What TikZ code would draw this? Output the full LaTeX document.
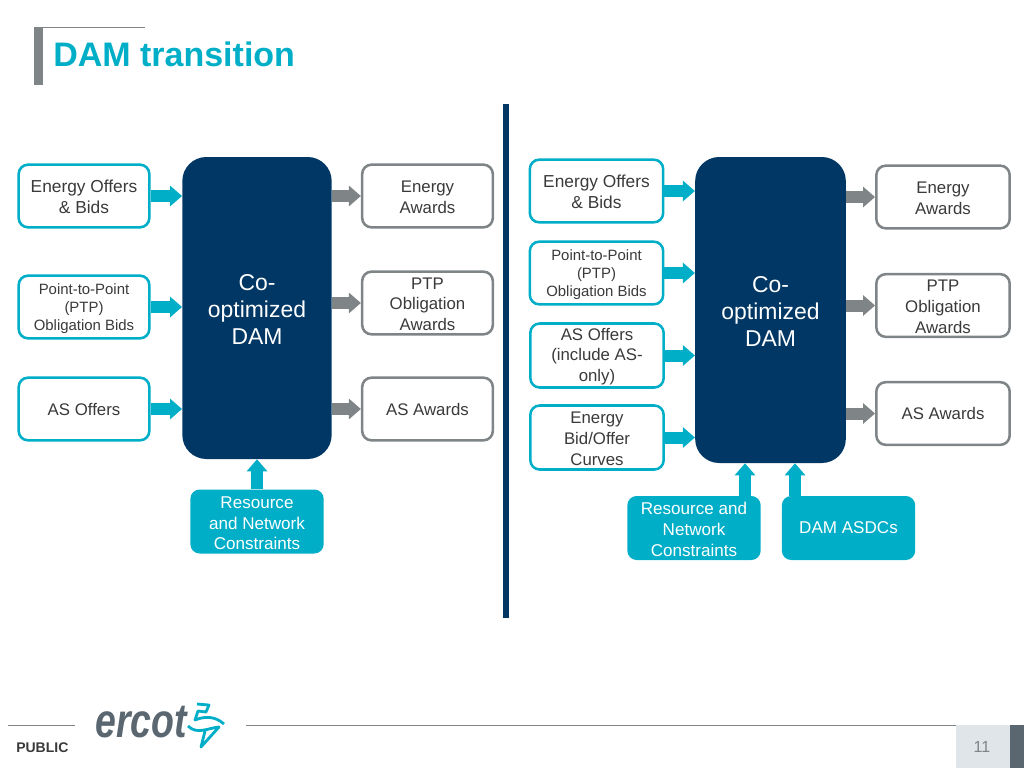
\documentclass[tikz,border=0pt]{standalone}
\usepackage{fontspec}
\setmainfont{Liberation Sans}
\usepackage{xcolor}
\usetikzlibrary{arrows.meta}
\definecolor{ercotteal}{HTML}{00AEC7}
\definecolor{ercotnavy}{HTML}{003764}
\definecolor{ercotgrey}{HTML}{7F8487}
\definecolor{textgrey}{HTML}{3A3A3C}
\definecolor{pagegrey}{HTML}{E0E5EA}
\definecolor{pagedark}{HTML}{5B6770}
\tikzset{
  drop/.style={execute at begin node=\rule{0pt}{#1}},
  inbox/.style={draw=ercotteal,line width=1.9pt,rounded corners=7pt,fill=white,text=textgrey,align=center,font=\fontsize{12.6}{15.5}\selectfont,minimum width=98pt,minimum height=47pt,inner sep=0pt},
  smallbox/.style={inbox,font=\fontsize{11.2}{13.5}\selectfont,drop=38pt},
  shadowbox/.style={inbox,font=\fontsize{13}{15.5}\selectfont,drop=26.3pt},
  outbox/.style={inbox,draw=ercotgrey},
  damblock/.style={fill=ercotnavy,rounded corners=18pt,text=white,align=center,font=\fontsize{17.2}{20.5}\selectfont,inner sep=0pt,drop=55pt},
  limitbox/.style={fill=ercotteal,rounded corners=7pt,text=white,align=center,font=\fontsize{12.8}{15.5}\selectfont,minimum width=100pt,minimum height=48pt,inner sep=0pt},
  inarrow/.style={draw=ercotteal,line width=9pt,-{Triangle[length=9pt,width=15pt]}},
  outarrow/.style={inarrow,draw=ercotgrey}
}
\begin{document}
\begin{tikzpicture}[x=0.75pt,y=-0.75pt]
	\useasboundingbox (0,0) rectangle (1024,768);
	% title
	\fill[ercotgrey] (34,27) rectangle (43,85);
	\draw[ercotgrey,line width=0.75pt] (34,27) -- (145,27);
	\node[anchor=west,inner sep=0pt,text=ercotteal,font=\fontsize{25.5}{30}\bfseries] (title) at (53,54) {DAM transition};
	% divider
	\fill[ercotnavy] (503,104) rectangle (509,618);
	% left side
	\node[damblock,minimum width=112pt,minimum height=226.5pt] (damA) at (257,308) {Co-\\optimized\\DAM};
	\node[shadowbox] (offersA) at (84,196) {Energy Offers\\\& Bids};
	\node[smallbox] (ptpA) at (84,307) {Point-to-Point\\(PTP)\\Obligation Bids};
	\node[inbox] (asA) at (84,409) {AS Offers};
	\node[outbox,drop=26pt] (awardsA) at (427.5,196) {Energy\\Awards};
	\node[outbox,drop=41.5pt] (oblA) at (427.5,303) {PTP\\Obligation\\Awards};
	\node[outbox] (asawA) at (427.5,409) {AS Awards};
	\node[limitbox,drop=42.5pt] (resA) at (257,521.5) {Resource\\and Network\\Constraints};
	\draw[inarrow] (offersA.east) -- (offersA.east -| damA.west);
	\draw[inarrow] (ptpA.east) -- (ptpA.east -| damA.west);
	\draw[inarrow] (asA.east) -- (asA.east -| damA.west);
	\draw[outarrow] (awardsA.west -| damA.east) -- (awardsA.west);
	\draw[outarrow] (oblA.west -| damA.east) -- (oblA.west);
	\draw[outarrow] (asawA.west -| damA.east) -- (asawA.west);
	\draw[inarrow] (resA.north) -- (damA.south);
	% right side
	\node[damblock,minimum width=113pt,minimum height=229.5pt] (damB) at (770.5,310) {Co-\\optimized\\DAM};
	\node[shadowbox,minimum width=100pt] (offersB) at (596.5,191) {Energy Offers\\\& Bids};
	\node[smallbox,minimum width=100pt] (ptpB) at (596.5,273) {Point-to-Point\\(PTP)\\Obligation Bids};
	\node[inbox,minimum width=100pt,minimum height=48pt,drop=41.5pt] (asB) at (597,355.5) {AS Offers\\(include AS-\\only)};
	\node[inbox,minimum width=100pt,minimum height=48pt,drop=41.5pt] (curvesB) at (597,437.5) {Energy\\Bid/Offer\\Curves};
	\node[outbox,minimum width=100pt,drop=26pt] (awardsB) at (943,197) {Energy\\Awards};
	\node[outbox,minimum width=100pt,drop=41.5pt] (oblB) at (943,305.5) {PTP\\Obligation\\Awards};
	\node[outbox,minimum width=100pt] (asawB) at (943,413.5) {AS Awards};
	\node[limitbox,drop=42.5pt] (resB) at (694,528) {Resource and\\Network\\Constraints};
	\node[limitbox] (asdcB) at (848.5,528) {DAM ASDCs};
	\coordinate (resBtop) at (745,496);
	\coordinate (asdcBtop) at (795,496);
	\draw[inarrow] (offersB.east) -- (offersB.east -| damB.west);
	\draw[inarrow] (ptpB.east) -- (ptpB.east -| damB.west);
	\draw[inarrow] (asB.east) -- (asB.east -| damB.west);
	\draw[inarrow] (curvesB.east) -- (curvesB.east -| damB.west);
	\draw[outarrow] (awardsB.west -| damB.east) -- (awardsB.west);
	\draw[outarrow] (oblB.west -| damB.east) -- (oblB.west);
	\draw[outarrow] (asawB.west -| damB.east) -- (asawB.west);
	\draw[inarrow] (resBtop) -- (resBtop |- damB.south);
	\draw[inarrow] (asdcBtop) -- (asdcBtop |- damB.south);
	% footer
	\draw[ercotgrey,line width=0.75pt] (8,725) -- (75,725);
	\draw[ercotgrey,line width=0.75pt] (246,725) -- (1024,725);
	\fill[pagegrey] (956,725) rectangle (1010,768);
	\fill[pagedark] (1010,725) rectangle (1024,768);
	\node[inner sep=0pt,text=ercotgrey,font=\fontsize{12}{14}\selectfont] (pageno) at (982,747) {11};
	\node[anchor=west,inner sep=0pt,text=textgrey,font=\fontsize{10.5}{12}\bfseries] (public) at (16,748) {PUBLIC};
	\node[anchor=base west,inner sep=0pt,xscale=0.78,text=pagedark,font=\fontsize{36}{40}\bfseries\itshape] (ercot) at (95,737) {ercot};
	% logo mark
	\draw[ercotteal,line width=2.1pt,line join=round] (197,704) -- (209,705) -- (206,712) -- (198,711) -- (195,720) .. controls (205,716) and (215,716) .. (224,724);
	\draw[ercotteal,line width=2.1pt,line join=round] (188,726) .. controls (197,735) and (208,728) .. (219,727) -- (201,747) -- (205,731);
\end{tikzpicture}
\end{document}
